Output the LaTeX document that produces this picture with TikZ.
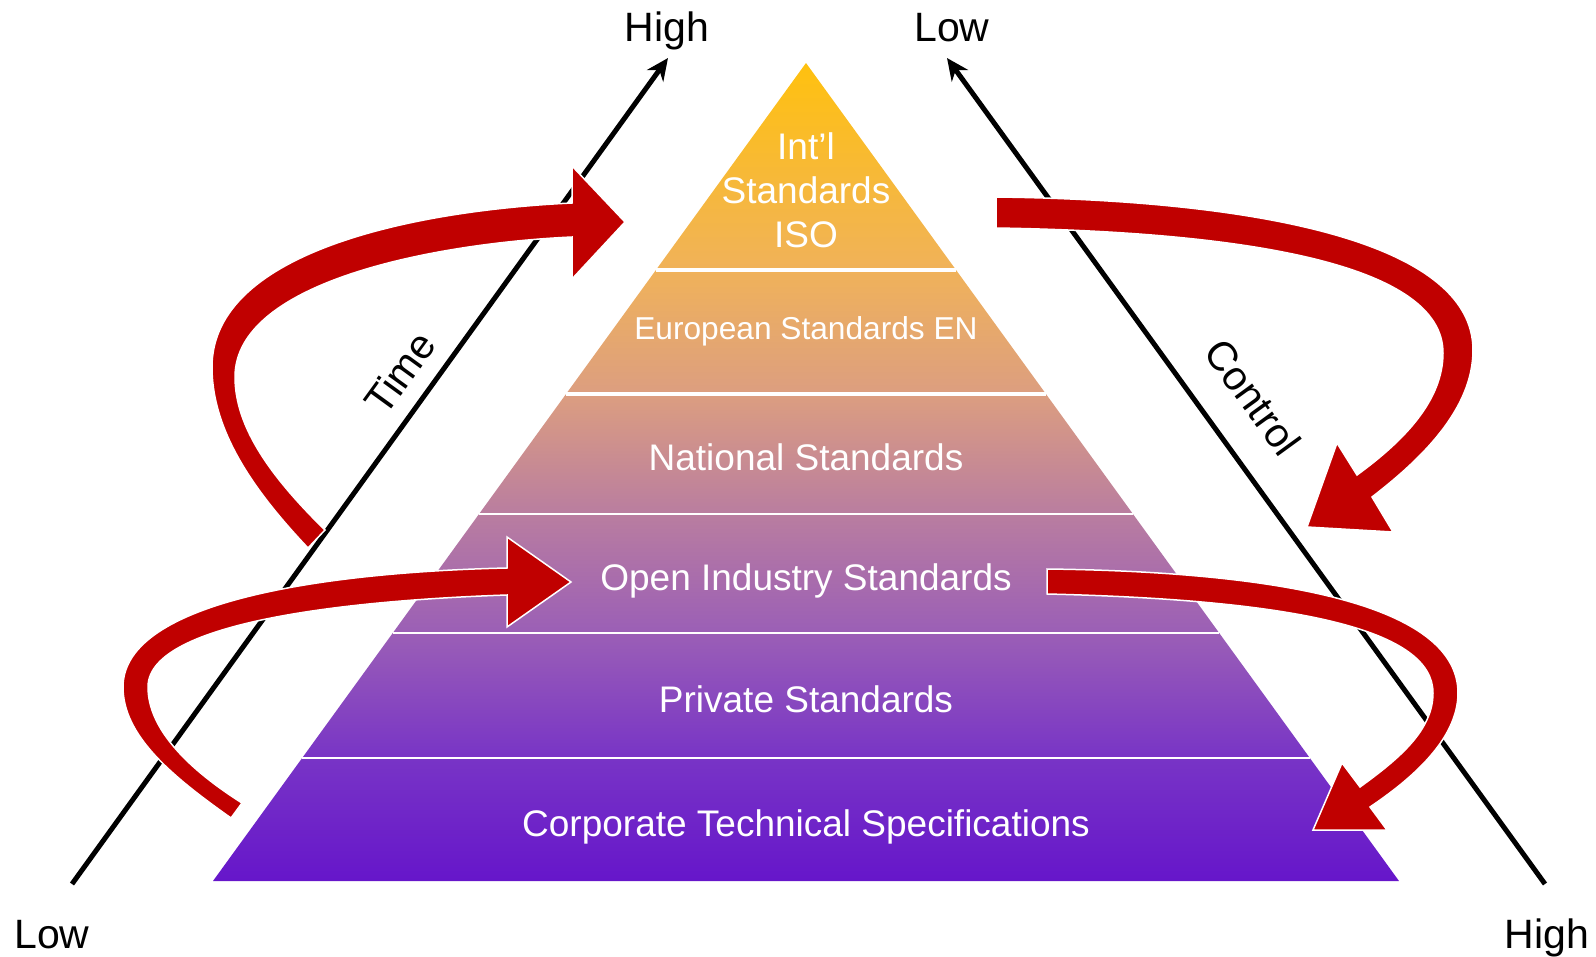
\documentclass[tikz,border=0pt]{standalone}
\usepackage{fontspec}
\setmainfont{Liberation Sans}
\usetikzlibrary{arrows.meta}
\newlength{\du}
\setlength{\du}{0.3\unitlength}

\definecolor{arrowred}{rgb}{0.752941, 0.000000, 0.000000}
\definecolor{pyrA}{RGB}{255,193,15}
\definecolor{pyrB}{RGB}{240,178,90}
\definecolor{pyrC}{RGB}{220,158,128}
\definecolor{pyrD}{RGB}{185,125,160}
\definecolor{pyrE}{RGB}{155,95,182}
\definecolor{pyrF}{RGB}{120,52,198}
\definecolor{pyrG}{RGB}{102,22,202}
\pgfdeclareverticalshading{pyramidshade}{100bp}{color(0bp)=(pyrG); color(25bp)=(pyrG); color(32.5bp)=(pyrF); color(40.2bp)=(pyrE); color(47.4bp)=(pyrD); color(54.8bp)=(pyrC); color(62.3bp)=(pyrB); color(75bp)=(pyrA); color(100bp)=(pyrA)}

\tikzset{
  bandtext/.style={text=white, inner sep=0pt, anchor=base, font=\fontsize{11.1}{13.2}\selectfont},
  entext/.style={bandtext, font=\fontsize{9.5}{11.4}\selectfont},
  axislabel/.style={text=black, inner sep=0pt, anchor=base, font=\fontsize{12.3}{14.8}\selectfont},
  axisline/.style={draw=black, line width=5\du, -{Stealth[length=6.6pt,width=6pt]}},
  divider/.style={draw=white, line width=1.5\du},
  bigarrow/.style={fill=arrowred, draw=white, line width=1.5\du, line join=miter},
}

\begin{document}
\begin{tikzpicture}
\pgftransformxscale{1.000000}
\pgftransformyscale{-1.000000}
\useasboundingbox (0\du,0\du) rectangle (1596\du,957\du);
% pyramid
\path[shading=pyramidshade] (806\du,63\du)--(1399\du,881\du)--(213\du,881\du)--cycle;
\draw[divider, line width=3.5\du] (656\du,270\du)--(956\du,270\du);
\draw[divider, line width=3.5\du] (566\du,394\du)--(1046\du,394\du);
\draw[divider] (479\du,514\du)--(1133\du,514\du);
\draw[divider] (393\du,633\du)--(1219\du,633\du);
\draw[divider] (302\du,758\du)--(1310\du,758\du);
\node[bandtext, anchor=center, align=center] (iso) at (806\du,190\du){Int’l\\Standards\\ISO};
\node[entext] (european) at (806\du,339\du){European Standards EN};
\node[bandtext] (national) at (806\du,470\du){National Standards};
\node[bandtext] (openindustry) at (806\du,590\du){Open Industry Standards};
\node[bandtext] (private) at (806\du,712\du){Private Standards};
\node[bandtext] (corporate) at (806\du,836\du){Corporate Technical Specifications};
% axes
\definecolor{dialinecolor}{rgb}{0.000000, 0.000000, 0.000000}
\pgfsetstrokecolor{dialinecolor}
\coordinate (timestart) at (72\du,884\du);
\coordinate (timeend) at (668\du,58\du);
\coordinate (controlstart) at (1545\du,884\du);
\coordinate (controlend) at (947\du,58\du);
\draw[axisline] (timestart)--(timeend);
\draw[axisline] (controlstart)--(controlend);
\node[axislabel] (timehigh) at (667\du,42\du){High};
\node[axislabel] (controllow) at (952\du,42\du){Low};
\node[axislabel] (timelow) at (52\du,948\du){Low};
\node[axislabel] (controlhigh) at (1547\du,948\du){High};
\node[axislabel, anchor=center, rotate=54] (timetext) at (400\du,373\du){Time};
\node[axislabel, anchor=center, rotate=-54] (controltext) at (1253\du,397\du){Control};
% red curved arrows
\path[bigarrow] (308\du,548\du) .. controls (255\du,492\du) and (212\du,432\du) .. (212\du,367\du)
  .. controls (212\du,250\du) and (420\du,210\du) .. (572\du,203\du)
  --(572\du,166\du)--(625\du,222\du)--(572\du,279\du)--(572\du,237\du)
  .. controls (440\du,243\du) and (235\du,280\du) .. (235\du,377\du)
  .. controls (235\du,428\du) and (272\du,478\du) .. (325\du,530\du)--cycle;
\path[bigarrow] (996\du,197\du) .. controls (1250\du,200\du) and (1473\du,240\du) .. (1473\du,350\du)
  .. controls (1473\du,410\du) and (1420\du,460\du) .. (1372\du,497\du)
  --(1393\du,532\du)--(1307\du,527\du)--(1337\du,443\du)--(1357\du,475\du)
  .. controls (1405\du,440\du) and (1443\du,400\du) .. (1443\du,353\du)
  .. controls (1443\du,265\du) and (1250\du,232\du) .. (996\du,228\du)--cycle;
\path[bigarrow] (231\du,818\du) .. controls (170\du,775\du) and (123\du,735\du) .. (123\du,687\du)
  .. controls (123\du,600\du) and (330\du,572\du) .. (507\du,568\du)
  --(507\du,537\du)--(571\du,582\du)--(507\du,627\du)--(507\du,595\du)
  .. controls (360\du,600\du) and (148\du,620\du) .. (148\du,687\du)
  .. controls (148\du,730\du) and (190\du,770\du) .. (242\du,803\du)--cycle;
\path[bigarrow] (1047\du,569\du) .. controls (1300\du,572\du) and (1458\du,610\du) .. (1458\du,693\du)
  .. controls (1458\du,740\du) and (1410\du,780\du) .. (1370\du,807\du)
  --(1387\du,830\du)--(1313\du,830\du)--(1342\du,763\du)--(1360\du,787\du)
  .. controls (1400\du,758\du) and (1433\du,730\du) .. (1433\du,693\du)
  .. controls (1433\du,630\du) and (1300\du,600\du) .. (1047\du,594\du)--cycle;
\end{tikzpicture}
\end{document}
